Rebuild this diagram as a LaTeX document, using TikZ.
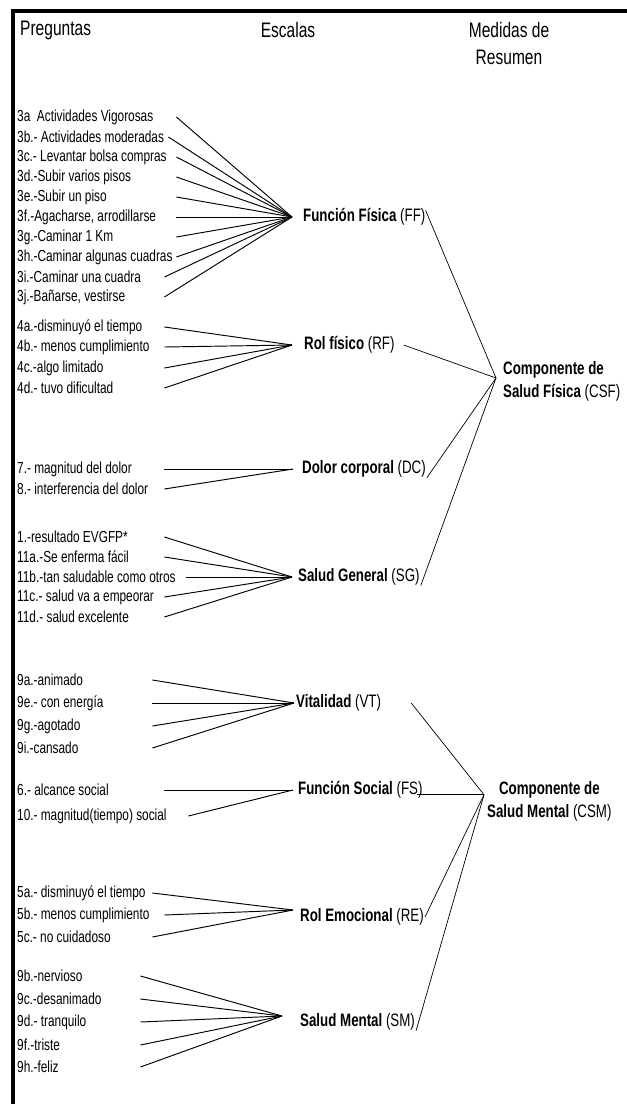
\documentclass[tikz,border=0pt]{standalone}
\usepackage{fontspec}
\setmainfont{Liberation Sans}[FakeStretch=0.74]
\usetikzlibrary{positioning}
\tikzset{
  frame rule/.style={draw=black, line width=3.2pt},
  column head/.style={font=\fontsize{21}{27}\selectfont, align=center, inner sep=0pt},
  question/.style={anchor=west, inner sep=0pt, font=\fontsize{16}{18}\selectfont,
    execute at begin node={\hbox to #1\bgroup}, execute at end node={\hss\egroup}},
  scale label/.style={inner sep=0pt, font=\fontsize{18}{21}\selectfont},
  summary label/.style={inner sep=0pt, font=\fontsize{18}{23}\selectfont},
  item link/.style={draw=black, line width=0.95pt},
  summary link/.style={draw=black, line width=0.7pt},
}

\begin{document}
\begin{tikzpicture}[x=1pt, y=-1pt]
  \useasboundingbox (0,0) rectangle (627,1104);
  % Open frame on the left and top edges.
  \draw[frame rule] (13,1104) -- (13,11) -- (627,11);

  % Column headings.
  \node[column head, anchor=west] (preguntas) at (20,30) {Preguntas};
  \node[column head] (escalas) at (288,30) {Escalas};
  \node[column head] (medidas) at (509,43) {Medidas de\\Resumen};

  % Physical function items.
  \node[question=159pt] (q3a) at (17,117) {3a\ \ Actividades Vigorosas};
  \node[question=151pt] (q3b) at (17,137) {3b.- Actividades moderadas};
  \node[question=159pt] (q3c) at (17,157) {3c.- Levantar bolsa compras};
  \node[question=159pt] (q3d) at (17,177) {3d.-Subir varios pisos};
  \node[question=159pt] (q3e) at (17,197) {3e.-Subir un piso};
  \node[question=159pt] (q3f) at (17,217) {3f.-Agacharse, arrodillarse};
  \node[question=159pt] (q3g) at (17,237) {3g.-Caminar 1 Km};
  \node[question=159pt] (q3h) at (17,257) {3h.-Caminar algunas cuadras};
  \node[question=147pt] (q3i) at (17,277) {3i.-Caminar una cuadra};
  \node[question=147pt] (q3j) at (17,297) {3j.-Bañarse, vestirse};

  % Physical role items.
  \node[question=147pt] (q4a) at (17,327) {4a.-disminuyó el tiempo};
  \node[question=147pt] (q4b) at (17,347) {4b.- menos cumplimiento};
  \node[question=147pt] (q4c) at (17,368) {4c.-algo limitado};
  \node[question=147pt] (q4d) at (17,388) {4d.- tuvo dificultad};

  % Bodily pain items.
  \node[question=147pt] (q7) at (17,469) {7.- magnitud del dolor};
  \node[question=147pt] (q8) at (17,489) {8.- interferencia del dolor};

  % General health items.
  \node[question=147pt] (q1) at (17,537) {1.-resultado EVGFP*};
  \node[question=147pt] (q11a) at (17,557) {11a.-Se enferma fácil};
  \node[question=169pt] (q11b) at (17,577) {11b.-tan saludable como otros};
  \node[question=147pt] (q11c) at (17,597) {11c.- salud va a empeorar};
  \node[question=147pt] (q11d) at (17,617) {11d.- salud excelente};

  % Vitality items.
  \node[question=135pt] (q9a) at (17,680) {9a.-animado};
  \node[question=135pt] (q9e) at (17,703) {9e.- con energía};
  \node[question=135pt] (q9g) at (17,726) {9g.-agotado};
  \node[question=135pt] (q9i) at (17,748) {9i.-cansado};

  % Social function items.
  \node[question=147pt] (q6) at (17,790) {6.- alcance social};
  \node[question=171pt] (q10) at (17,816) {10.- magnitud(tiempo) social};

  % Emotional role items.
  \node[question=135pt] (q5a) at (17,893) {5a.- disminuyó el tiempo};
  \node[question=147pt] (q5b) at (17,915) {5b.- menos cumplimiento};
  \node[question=135pt] (q5c) at (17,937) {5c.- no cuidadoso};

  % Mental health items.
  \node[question=123pt] (q9b) at (17,976) {9b.-nervioso};
  \node[question=123pt] (q9c) at (17,999) {9c.-desanimado};
  \node[question=123pt] (q9d) at (17,1022) {9d.- tranquilo};
  \node[question=123pt] (q9f) at (17,1045) {9f.-triste};
  \node[question=123pt] (q9h) at (17,1067) {9h.-feliz};

  % Scales, each with the point where its items meet.
  \coordinate (ffjoin) at (292,217);
  \node[scale label, right=11pt of ffjoin] (ff) {\textbf{Función Física} (FF)};
  \coordinate (rfjoin) at (292,345);
  \node[scale label, right=12pt of rfjoin] (rf) {\textbf{Rol físico} (RF)};
  \coordinate (dcjoin) at (293,469);
  \node[scale label, right=9pt of dcjoin] (dc) {\textbf{Dolor corporal} (DC)};
  \coordinate (sgjoin) at (292,577);
  \node[scale label, right=6pt of sgjoin] (sg) {\textbf{Salud General} (SG)};
  \coordinate (vtjoin) at (294,703);
  \node[scale label, right=2pt of vtjoin] (vt) {\textbf{Vitalidad} (VT)};
  \coordinate (fsjoin) at (293,790);
  \node[scale label, right=5pt of fsjoin] (fs) {\textbf{Función Social} (FS)};
  \coordinate (rejoin) at (293,910);
  \node[scale label, right=7pt of rejoin, yshift=-7pt] (re) {\textbf{Rol Emocional} (RE)};
  \coordinate (smjoin) at (282,1016);
  \node[scale label, right=18pt of smjoin, yshift=-6pt] (sm) {\textbf{Salud Mental} (SM)};

  % Summary measures.
  \coordinate (csfjoin) at (496,378);
  \node[summary label, align=left, right=7pt of csfjoin, yshift=-3.5pt] (csf)
    {\textbf{Componente de}\\\textbf{Salud Física} (CSF)};
  \coordinate (csmjoin) at (fs.base east -| 484,0);
  \node[summary label, align=center, right=3pt of csmjoin, yshift=-6.5pt] (csm)
    {\textbf{Componente de}\\\textbf{Salud Mental} (CSM)};

  % Items to scales.
  \draw[item link] (q3a.east) -- (ffjoin);
  \draw[item link] (q3b.east) -- (ffjoin);
  \draw[item link] (q3c.east) -- (ffjoin);
  \draw[item link] (q3d.east) -- (ffjoin);
  \draw[item link] (q3e.east) -- (ffjoin);
  \draw[item link] (q3f.east) -- (ffjoin);
  \draw[item link] (q3g.east) -- (ffjoin);
  \draw[item link] (q3h.east) -- (ffjoin);
  \draw[item link] (q3i.east) -- (ffjoin);
  \draw[item link] (q3j.east) -- (ffjoin);
  \draw[item link] (q4a.east) -- (rfjoin);
  \draw[item link] (q4b.east) -- (rfjoin);
  \draw[item link] (q4c.east) -- (rfjoin);
  \draw[item link] (q4d.east) -- (rfjoin);
  \draw[item link] (q7.east) -- (dcjoin);
  \draw[item link] (q8.east) -- (dcjoin);
  \draw[item link] (q1.east) -- (sgjoin);
  \draw[item link] (q11a.east) -- (sgjoin);
  \draw[item link] (q11b.east) -- (sgjoin);
  \draw[item link] (q11c.east) -- (sgjoin);
  \draw[item link] (q11d.east) -- (sgjoin);
  \draw[item link] (q9a.east) -- (vtjoin);
  \draw[item link] (q9e.east) -- (vtjoin);
  \draw[item link] (q9g.east) -- (vtjoin);
  \draw[item link] (q9i.east) -- (vtjoin);
  \draw[item link] (q6.east) -- (fsjoin);
  \draw[item link] (q10.east) -- (fsjoin);
  \draw[item link] (q5a.east) -- (rejoin);
  \draw[item link] (q5b.east) -- (rejoin);
  \draw[item link] (q5c.east) -- (rejoin);
  \draw[item link] (q9b.east) -- (smjoin);
  \draw[item link] (q9c.east) -- (smjoin);
  \draw[item link] (q9d.east) -- (smjoin);
  \draw[item link] (q9f.east) -- (smjoin);
  \draw[item link] (q9h.east) -- (smjoin);

  % Scales to summary measures.
  \draw[summary link] ([yshift=-2pt]ff.north east) -- (csfjoin);
  \draw[summary link] ([xshift=9pt]rf.east) -- (csfjoin);
  \draw[summary link] ([xshift=1pt]dc.south east) -- (csfjoin);
  \draw[summary link] ([xshift=1pt]sg.south east) -- (csfjoin);
  \draw[summary link] ([xshift=30pt]vt.east) -- (csmjoin);
  \draw[summary link] ([xshift=-6pt]fs.base east) -- (csmjoin);
  \draw[summary link] ([xshift=1pt]re.east) -- (csmjoin);
  \draw[summary link] ([xshift=1pt]sm.south east) -- (csmjoin);
\end{tikzpicture}
\end{document}
